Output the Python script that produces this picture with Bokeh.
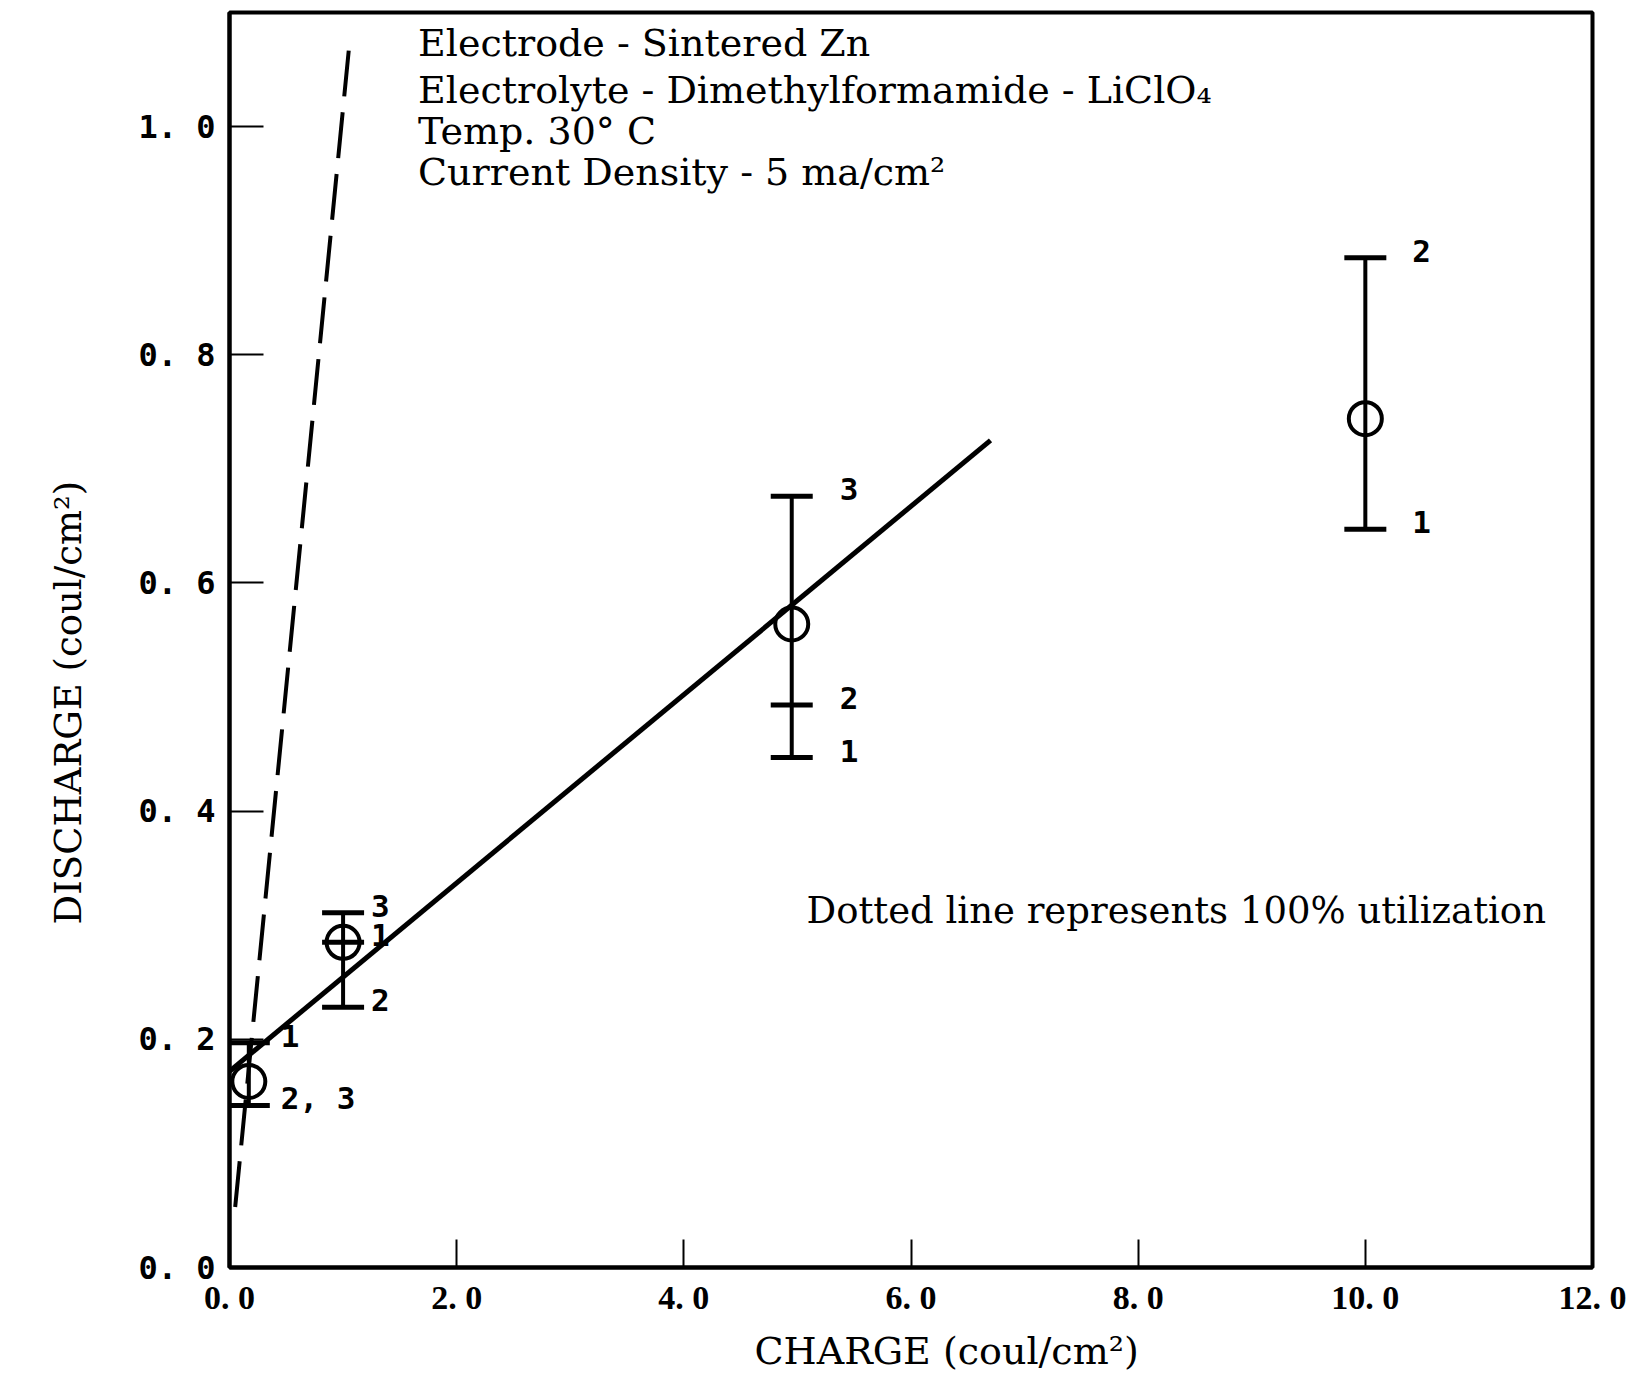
from bokeh.plotting import figure
from bokeh.models import Range1d, FixedTicker, Label, ColumnDataSource, Title
from bokeh.embed import file_html
from bokeh.resources import INLINE
from bokeh.core.properties import value

# ---------------- data ----------------
x_ticks = [0, 2, 4, 6, 8, 10, 12]
x_tick_labels = ["0. 0", "2. 0", "4. 0", "6. 0", "8. 0", "10. 0", "12. 0"]
y_ticks = [0.0, 0.2, 0.4, 0.6, 0.8, 1.0]
y_tick_labels = ["0. 0", "0. 2", "0. 4", "0. 6", "0. 8", "1. 0"]

x_title = "CHARGE (coul/cm²)"
y_title = "DISCHARGE (coul/cm²)"

# averaged points (circles)
charge_points = [0.17, 1.0, 4.95, 10.0]
discharge_points = [0.163, 0.285, 0.564, 0.744]

# individual runs (bar ends), with run numbers
run_charge = [0.17, 0.17, 1.0, 1.0, 1.0, 4.95, 4.95, 4.95, 10.0, 10.0]
run_discharge = [0.197, 0.142, 0.311, 0.285, 0.228, 0.676, 0.493, 0.447, 0.885, 0.647]
run_label = ["1", "2, 3", "3", "1", "2", "3", "2", "1", "2", "1"]

# fitted line
fit_charge = [0.0, 6.7]
fit_discharge = [0.172, 0.725]

# 100% utilization line
ideal_charge = [0.05, 1.055]
ideal_discharge = [0.053, 1.072]

# ---------------- styles ----------------
label_dx_by_point = [32, 28, 48, 47]
SERIF = "DejaVu Serif"
MONO = "DejaVu Sans Mono"

p = figure(width=1631, height=1380,
           x_range=Range1d(0, 12), y_range=Range1d(0, 1.1),
           output_backend="svg", toolbar_location=None,
           min_border_left=229, min_border_right=39,
           min_border_top=12, min_border_bottom=111)

p.background_fill_color = "white"
p.border_fill_color = "white"
p.grid.visible = False
p.outline_line_color = "black"
p.outline_line_width = 4
p.outline_line_alpha = 1.0

for ax, ticks, labels in ((p.xaxis, x_ticks, x_tick_labels), (p.yaxis, y_ticks, y_tick_labels)):
    ax.ticker = FixedTicker(ticks=ticks)
    ax.major_label_overrides = {t: l for t, l in zip(ticks, labels)}
    ax.axis_line_width = 4
    ax.axis_line_color = "black"
    ax.major_tick_out = 0
    ax.major_tick_line_width = 2
    ax.major_tick_line_color = "black"
    ax.minor_tick_line_color = None
    ax.major_label_text_font_style = "bold"
    ax.major_label_text_color = "black"

p.xaxis.major_tick_in = 28
p.yaxis.major_tick_in = 34
p.xaxis.major_label_text_font = "Liberation Serif"
p.xaxis.major_label_text_font_size = "34px"
p.yaxis.major_label_text_font = MONO
p.yaxis.major_label_text_font_size = "32px"
p.xaxis.major_label_standoff = 11
p.yaxis.major_label_standoff = 14

# axis titles (as side titles so they can sit off-centre like the original)
p.add_layout(Title(text=x_title, align="left", offset=525, standoff=16,
                   text_font=SERIF, text_font_size="38px", text_font_style="normal",
                   text_color="black"), "below")
p.add_layout(Title(text=y_title, align="left", offset=343, standoff=88, vertical_align="top",
                   text_font=SERIF, text_font_size="37px", text_font_style="normal",
                   text_color="black"), "left")

# 100% utilization dashed line
p.line(ideal_charge, ideal_discharge, line_color="black", line_width=4, line_dash="46 16")

# fitted solid line
p.line(fit_charge, fit_discharge, line_color="black", line_width=5)

# error bar stems (from lowest to highest run at each charge)
stem_lo = [min(d for c, d in zip(run_charge, run_discharge) if c == cp) for cp in charge_points]
stem_hi = [max(d for c, d in zip(run_charge, run_discharge) if c == cp) for cp in charge_points]
p.segment(x0=charge_points, y0=stem_lo, x1=charge_points, y1=stem_hi,
          line_color="black", line_width=4)

# caps for each run
p.scatter(run_charge, run_discharge, marker="dash", size=42, line_color="black", line_width=5)

# averaged circles
p.scatter(charge_points, discharge_points, marker="circle", size=33,
          fill_color=None, line_color="black", line_width=4)

# run number labels
run_dx = [label_dx_by_point[charge_points.index(c)] for c in run_charge]
src = ColumnDataSource(dict(x=run_charge, y=run_discharge, t=run_label, dx=run_dx))
p.text(x="x", y="y", text="t", source=src, x_offset="dx", y_offset=-7,
       text_font=value(MONO), text_font_style="bold", text_font_size="31px",
       text_baseline="middle", text_align="left", text_color="black")

# annotations
notes = [
    ("Electrode - Sintered Zn", 1.0734),
    ("Electrolyte - Dimethylformamide - LiClO₄", 1.0323),
    ("Temp. 30° C", 0.9965),
    ("Current Density - 5 ma/cm²", 0.9598),
]
for txt, yy in notes:
    p.add_layout(Label(x=1.66, y=yy, text=txt, text_font=SERIF, text_font_size="38px",
                       text_baseline="alphabetic", text_align="left", text_color="black"))

p.add_layout(Label(x=5.08, y=0.3132, text="Dotted line represents 100% utilization",
                   text_font=SERIF, text_font_size="37px", text_baseline="alphabetic",
                   text_align="left", text_color="black"))

open("out.html", "w").write(file_html(p, INLINE))
